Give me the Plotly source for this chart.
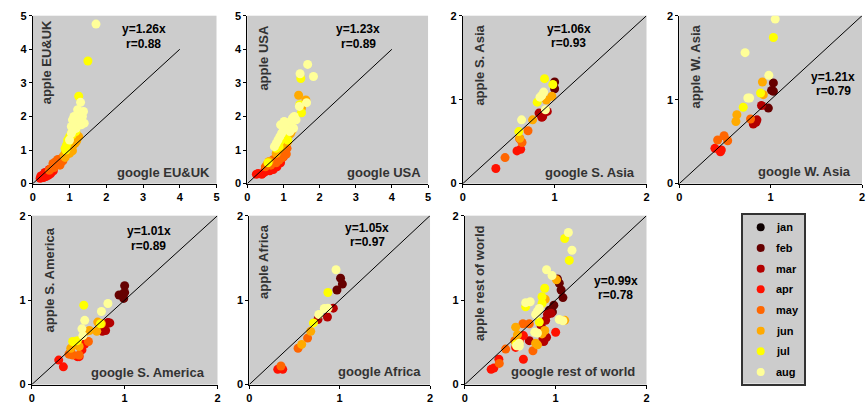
import plotly.graph_objects as go

# ---------------- data ----------------
months = ["jan", "feb", "mar", "apr", "may", "jun", "jul", "aug"]
month_colors = ["#0d0000", "#660000", "#b30000", "#ff1100", "#ff6600", "#ffaa00", "#ffff00", "#ffff99"]

regions = ["EU&UK", "USA", "S. Asia", "W. Asia", "S. America", "Africa", "rest of world"]
slopes = ["1.26", "1.23", "1.06", "1.21", "1.01", "1.05", "0.99"]
corrs = ["0.88", "0.89", "0.93", "0.79", "0.89", "0.97", "0.78"]
axis_max = [5, 5, 2, 2, 2, 2, 2]
diag_max = [4, 4, 2, 2, 2, 2, 2]

# google (x) and apple (y) mobility per month, per region
eu_google = {
    "feb": [0.98, 1.02, 1.0, 1.05, 0.97],
    "mar": [1.0, 0.96, 0.32, 0.28, 0.25, 0.3, 0.35, 0.27],
    "apr": [0.2, 0.24, 0.27, 0.3, 0.32, 0.35, 0.38, 0.4, 0.43, 0.46, 0.5, 0.53, 0.29, 0.36, 0.42, 0.48, 0.56, 0.22, 0.33, 0.45],
    "may": [0.45, 0.5, 0.55, 0.58, 0.6, 0.63, 0.66, 0.7, 0.72, 0.75, 0.78, 0.8, 0.83, 0.86, 0.9, 0.62, 0.68, 0.74, 0.55, 0.82],
    "jun": [0.85, 0.9, 0.95, 1.0, 1.05, 1.1, 1.15, 1.2, 1.25, 0.92, 1.02, 1.12, 0.88, 1.08, 1.18],
    "jul": [0.88, 0.92, 0.95, 1.0, 1.05, 1.1, 1.15, 1.2, 1.25, 1.3, 0.97, 1.07, 1.17, 1.27, 0.9, 1.25, 1.5],
    "aug": [1.0, 1.05, 1.1, 1.15, 1.2, 1.25, 1.3, 1.35, 1.4, 1.05, 1.12, 1.18, 1.22, 1.28, 1.32, 1.38, 1.08, 1.3, 1.72],
}
eu_apple = {
    "feb": [0.97, 1.05, 1.0, 1.08, 0.93],
    "mar": [1.02, 0.98, 0.26, 0.22, 0.19, 0.2, 0.28, 0.24],
    "apr": [0.16, 0.2, 0.22, 0.27, 0.24, 0.3, 0.26, 0.33, 0.3, 0.36, 0.34, 0.4, 0.18, 0.21, 0.25, 0.29, 0.38, 0.23, 0.33, 0.42],
    "may": [0.4, 0.45, 0.5, 0.48, 0.58, 0.55, 0.62, 0.6, 0.7, 0.66, 0.75, 0.72, 0.8, 0.78, 0.85, 0.65, 0.72, 0.55, 0.6, 0.68],
    "jun": [0.85, 0.95, 1.0, 0.9, 1.05, 1.15, 1.2, 1.3, 1.4, 1.1, 1.2, 1.35, 0.78, 0.98, 1.25],
    "jul": [1.05, 1.15, 1.3, 1.4, 1.5, 1.6, 1.7, 1.8, 1.9, 2.0, 1.25, 1.45, 1.55, 1.75, 1.0, 2.6, 3.65],
    "aug": [1.3, 1.5, 1.6, 1.8, 1.9, 2.05, 2.1, 2.0, 1.8, 1.7, 2.0, 1.65, 2.2, 1.85, 1.75, 2.15, 1.9, 2.42, 4.75],
}

usa_google = {
    "feb": [1.0, 1.03, 0.98, 1.05],
    "mar": [1.0, 0.95, 0.9, 0.85, 0.8, 0.75, 0.7],
    "apr": [0.25, 0.3, 0.4, 0.45, 0.5, 0.55, 0.6, 0.65, 0.7, 0.75, 0.8, 0.85, 0.9, 0.95, 1.0, 0.62, 0.72, 0.82, 0.92, 0.5, 0.58],
    "may": [0.5, 0.55, 0.62, 0.7, 0.78, 0.85, 0.9, 0.95, 1.0, 1.05, 1.1, 0.8, 0.88, 0.98, 1.08, 0.65],
    "jun": [0.8, 0.85, 0.9, 0.95, 1.0, 1.05, 1.1, 1.15, 1.2, 1.42, 1.62, 1.5, 0.6, 1.12, 1.25],
    "jul": [0.57, 0.8, 0.85, 0.9, 0.95, 1.0, 1.05, 1.1, 1.15, 1.2, 1.25, 1.48, 1.5, 1.45, 0.88, 1.12],
    "aug": [0.75, 0.8, 0.85, 0.9, 0.95, 1.0, 1.05, 1.1, 1.15, 1.2, 1.25, 1.3, 1.35, 1.44, 1.64, 1.46, 1.67, 1.83, 0.92, 1.02, 1.18, 1.28],
}
usa_apple = {
    "feb": [1.0, 1.05, 0.97, 1.08],
    "mar": [1.0, 0.9, 0.82, 0.72, 0.62, 0.55, 0.5],
    "apr": [0.28, 0.3, 0.28, 0.32, 0.36, 0.4, 0.45, 0.5, 0.48, 0.55, 0.6, 0.58, 0.7, 0.75, 0.8, 0.38, 0.42, 0.5, 0.62, 0.45, 0.52],
    "may": [0.5, 0.58, 0.6, 0.7, 0.75, 0.8, 0.88, 0.9, 0.95, 1.0, 1.05, 0.62, 0.7, 0.78, 0.88, 0.55],
    "jun": [0.9, 1.0, 1.05, 1.1, 1.2, 1.3, 1.4, 1.45, 1.5, 2.63, 2.49, 2.25, 0.66, 1.25, 1.6],
    "jul": [0.62, 1.05, 1.15, 1.25, 1.35, 1.45, 1.5, 1.6, 1.7, 1.75, 1.85, 3.13, 2.11, 2.35, 1.1, 1.3],
    "aug": [1.1, 1.2, 1.3, 1.4, 1.5, 1.6, 1.7, 1.75, 1.8, 1.85, 1.95, 2.0, 1.9, 2.3, 2.41, 3.27, 3.55, 3.19, 1.75, 1.85, 1.55, 1.65],
}

sasia_google = {
    "feb": [1.0, 1.0],
    "mar": [0.83, 0.87, 0.92, 0.86],
    "apr": [0.36, 0.59, 0.63, 0.62],
    "may": [0.46, 0.645, 0.71],
    "jun": [0.62, 0.76, 0.91, 0.97],
    "jul": [0.61, 0.81, 0.89, 0.98],
    "aug": [0.64, 0.9, 0.84, 0.88, 0.86],
}
sasia_apple = {
    "feb": [1.21, 1.13],
    "mar": [0.84, 0.80, 0.86, 0.79],
    "apr": [0.18, 0.39, 0.41, 0.535],
    "may": [0.31, 0.49, 0.63],
    "jun": [0.54, 0.76, 0.995, 1.04],
    "jul": [0.62, 0.97, 1.25, 1.18],
    "aug": [0.76, 0.88, 1.03, 1.09, 1.05],
}

wasia_google = {
    "feb": [1.03, 1.01, 1.03, 0.975],
    "mar": [0.90, 0.84, 0.81, 0.85],
    "apr": [0.39, 0.45, 0.46],
    "may": [0.42, 0.49, 0.53, 0.78],
    "jun": [0.91, 0.92, 0.63, 0.62],
    "jul": [1.03, 0.89, 0.70],
    "aug": [1.05, 0.72, 0.98, 0.77, 0.75],
}
wasia_apple = {
    "feb": [1.2, 1.11, 1.10, 0.90],
    "mar": [0.93, 0.73, 0.71, 0.76],
    "apr": [0.42, 0.38, 0.40],
    "may": [0.52, 0.57, 0.51, 0.77],
    "jun": [1.21, 1.06, 0.82, 0.74],
    "jul": [1.74, 1.08, 0.91],
    "aug": [1.96, 1.56, 1.29, 1.02, 1.02],
}

samer_google = {
    "feb": [1.0, 0.98, 0.94, 1.0, 0.99],
    "mar": [0.82, 0.76, 0.84, 0.795],
    "apr": [0.49, 0.51, 0.54, 0.57, 0.29, 0.34],
    "may": [0.61, 0.42, 0.44, 0.51, 0.40],
    "jun": [0.71, 0.75, 0.70, 0.57, 0.62, 0.46, 0.51, 0.42],
    "jul": [0.56, 0.74, 0.44, 0.49],
    "aug": [0.82, 0.75, 0.57, 0.54, 0.55],
}
samer_apple = {
    "feb": [1.17, 1.07, 1.06, 1.09, 1.02],
    "mar": [0.735, 0.63, 0.73, 0.64],
    "apr": [0.33, 0.33, 0.41, 0.48, 0.29, 0.21],
    "may": [0.51, 0.39, 0.35, 0.35, 0.36],
    "jun": [0.74, 0.72, 0.63, 0.62, 0.64, 0.47, 0.45, 0.43],
    "jul": [0.94, 0.72, 0.51, 0.52],
    "aug": [0.96, 0.865, 0.76, 0.66, 0.58],
}

africa_google = {
    "feb": [1.01, 1.03, 0.97],
    "mar": [0.93, 0.865, 0.76],
    "apr": [0.315, 0.37],
    "may": [0.645, 0.54, 0.35],
    "jun": [0.68, 0.58],
    "jul": [0.87, 0.71],
    "aug": [0.96, 0.83, 0.87, 0.77],
}
africa_apple = {
    "feb": [1.26, 1.19, 1.12],
    "mar": [0.905, 0.80, 0.77],
    "apr": [0.18, 0.18],
    "may": [0.55, 0.43, 0.22],
    "jun": [0.63, 0.475],
    "jul": [1.09, 0.73],
    "aug": [1.36, 0.90, 0.905, 0.83],
}

row_google = {
    "feb": [1.04, 1.06, 1.08, 0.98, 0.93, 0.965, 1.02],
    "mar": [0.91, 0.95, 0.89, 0.71, 0.86, 0.9, 0.87, 0.84],
    "apr": [1.0, 0.645, 0.6, 0.56, 0.645, 0.375, 0.29, 0.32],
    "may": [0.64, 0.71, 0.55, 0.75, 0.45, 0.38],
    "jun": [1.01, 0.885, 1.1, 0.85, 0.88, 0.58, 0.56, 0.78, 0.8],
    "jul": [1.10, 1.15, 0.88, 0.85, 0.85, 0.67, 0.565, 0.82],
    "aug": [1.14, 1.18, 0.90, 0.96, 0.67, 0.72, 0.8, 0.82, 0.78, 1.04, 1.08, 0.80, 0.77, 0.60, 0.57, 0.60],
}
row_apple = {
    "feb": [1.20, 1.12, 1.03, 0.94, 0.88, 0.86, 1.25],
    "mar": [0.83, 0.845, 0.76, 0.52, 0.54, 0.56, 0.51, 0.70],
    "apr": [0.62, 0.58, 0.52, 0.44, 0.30, 0.30, 0.18, 0.195],
    "may": [0.72, 0.72, 0.52, 0.40, 0.42, 0.25],
    "jun": [1.24, 1.01, 0.76, 0.60, 0.64, 0.59, 0.68, 0.49, 0.47],
    "jul": [1.73, 1.47, 1.14, 1.04, 0.96, 0.92, 0.48, 0.74],
    "aug": [1.80, 1.59, 1.36, 1.29, 0.97, 0.98, 0.87, 0.90, 0.83, 0.77, 0.755, 0.61, 0.62, 0.49, 0.46, 0.455],
}

google_data = [eu_google, usa_google, sasia_google, wasia_google, samer_google, africa_google, row_google]
apple_data = [eu_apple, usa_apple, sasia_apple, wasia_apple, samer_apple, africa_apple, row_apple]

# ---------------- layout geometry (pixels) ----------------
W, H = 866, 409
x_px = [(30, 215), (246, 428), (463, 648), (681, 865), (29, 216), (248, 430), (465, 648)]
y_px = [(10, 183)] * 4 + [(216, 390)] * 3
eq_pos = [(0.605, 0.919, 0.832), (0.615, 0.919, 0.832), (0.578, 0.919, 0.838), (0.842, 0.636, 0.549),
          (0.631, 0.908, 0.822), (0.654, 0.925, 0.842), (0.831, 0.615, 0.529)]
apple_pos = [(0.076, 0.983), (0.088, 0.96), (0.092, 0.96), (0.087, 0.96), (0.096, 0.943), (0.082, 0.96), (0.082, 0.954)]
google_pos = [(0.973, 0.064), (0.973, 0.064), (0.946, 0.064), (0.951, 0.075), (0.941, 0.069), (0.962, 0.075), (0.945, 0.075)]

FONT = "Liberation Sans, Arial, Helvetica, sans-serif"

fig = go.Figure()
annotations = []
layout_axes = {}

for i, region in enumerate(regions):
    n = i + 1
    xa = "x" if n == 1 else f"x{n}"
    ya = "y" if n == 1 else f"y{n}"
    for m, c in zip(months, month_colors):
        gx = google_data[i].get(m, [])
        ay = apple_data[i].get(m, [])
        if not gx:
            continue
        fig.add_trace(go.Scatter(x=gx, y=ay, mode="markers", xaxis=xa, yaxis=ya,
                                 marker=dict(size=9, color=c, line=dict(width=0)),
                                 showlegend=False, hoverinfo="skip"))
    fig.add_trace(go.Scatter(x=[0, diag_max[i]], y=[0, diag_max[i]], mode="lines", xaxis=xa, yaxis=ya,
                             line=dict(color="black", width=1), showlegend=False, hoverinfo="skip"))
    x0, x1 = x_px[i]
    y0, y1 = y_px[i]
    axcommon = dict(showline=True, linecolor="black", linewidth=1, mirror=False, ticks="outside",
                    ticklen=3, tickcolor="black", showgrid=False, zeroline=False,
                    range=[0, axis_max[i]], dtick=1, fixedrange=True,
                    tickfont=dict(family=FONT, size=11, color="black", weight="bold"))
    layout_axes["xaxis" if n == 1 else f"xaxis{n}"] = dict(axcommon, domain=[x0 / W, x1 / W], anchor=ya)
    layout_axes["yaxis" if n == 1 else f"yaxis{n}"] = dict(axcommon, domain=[1 - y1 / H, 1 - y0 / H], anchor=xa)

    ex, ey1, ey2 = eq_pos[i]
    annotations.append(dict(x=ex, y=ey1, xref=f"{xa} domain", yref=f"{ya} domain", text=f"y={slopes[i]}x",
                            showarrow=False, xanchor="center", yanchor="middle",
                            font=dict(family=FONT, size=12, color="black", weight="bold")))
    annotations.append(dict(x=ex, y=ey2, xref=f"{xa} domain", yref=f"{ya} domain", text=f"r={corrs[i]}",
                            showarrow=False, xanchor="center", yanchor="middle",
                            font=dict(family=FONT, size=12, color="black", weight="bold")))
    apx, apy = apple_pos[i]
    annotations.append(dict(x=apx, y=apy, xref=f"{xa} domain", yref=f"{ya} domain", text=f"apple {region}",
                            showarrow=False, xanchor="center", yanchor="top", textangle=-90,
                            font=dict(family=FONT, size=13, color="#333333", weight="bold")))
    gpx, gpy = google_pos[i]
    annotations.append(dict(x=gpx, y=gpy, xref=f"{xa} domain", yref=f"{ya} domain", text=f"google {region}",
                            showarrow=False, xanchor="right", yanchor="middle",
                            font=dict(family=FONT, size=13, color="#333333", weight="bold")))

# ---------------- legend panel ----------------
leg_n = len(regions) + 1
lx, ly = f"x{leg_n}", f"y{leg_n}"
leg_y = [len(months) - k for k in range(len(months))]
fig.add_trace(go.Scatter(x=[0.29] * len(months), y=leg_y, mode="markers", xaxis=lx, yaxis=ly,
                         marker=dict(size=8, color=month_colors, line=dict(width=0)),
                         showlegend=False, hoverinfo="skip"))
for m, yy in zip(months, leg_y):
    annotations.append(dict(x=0.5, y=yy, xref=lx, yref=ly, text=m, showarrow=False,
                            xanchor="left", yanchor="middle",
                            font=dict(family=FONT, size=11, color="black", weight="bold")))
legcommon = dict(showline=True, linecolor="#333333", linewidth=1.5, mirror=True, ticks="",
                 showticklabels=False, showgrid=False, zeroline=False, fixedrange=True)
layout_axes[f"xaxis{leg_n}"] = dict(legcommon, domain=[745 / W, 807 / W], range=[0, 1], anchor=ly)
layout_axes[f"yaxis{leg_n}"] = dict(legcommon, domain=[1 - 389 / H, 1 - 215 / H], range=[0.44, 8.61], anchor=lx)

fig.update_layout(width=W, height=H, margin=dict(l=0, r=0, t=0, b=0),
                  paper_bgcolor="white", plot_bgcolor="#cccccc",
                  annotations=annotations, showlegend=False, **layout_axes)

fig.write_html("out.html")
